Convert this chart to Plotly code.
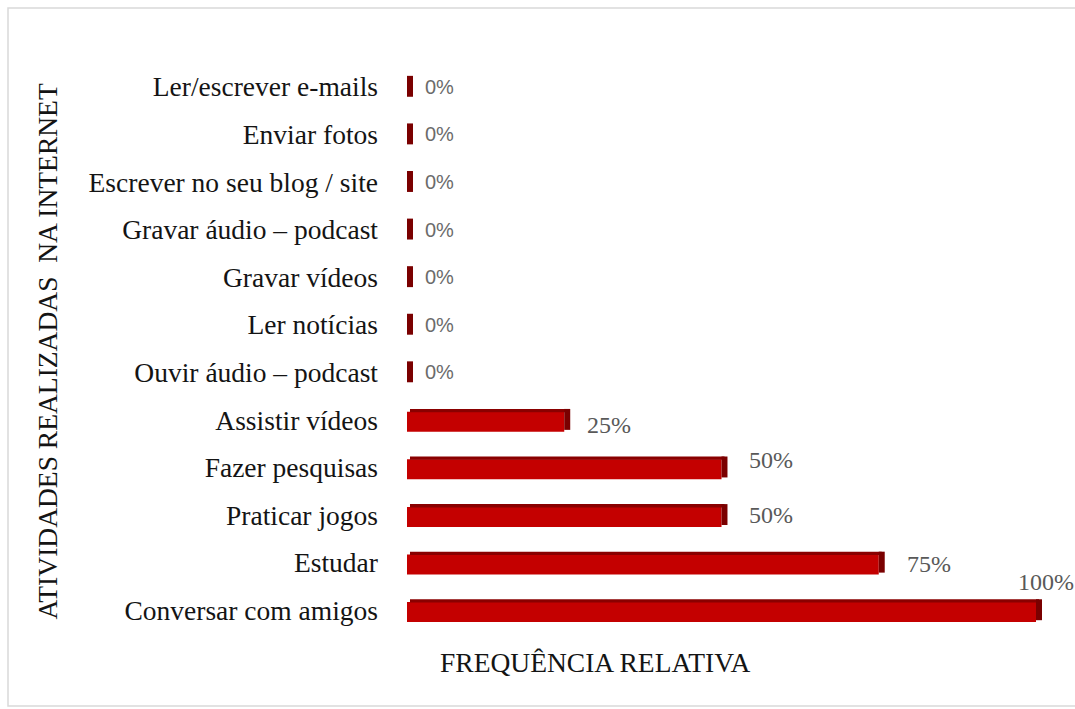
import plotly.graph_objects as go

# ---- data (bottom to top) ----
categories = [
    "Conversar com amigos", "Estudar", "Praticar jogos", "Fazer pesquisas",
    "Assistir vídeos", "Ouvir áudio – podcast", "Ler notícias", "Gravar vídeos",
    "Gravar áudio – podcast", "Escrever no seu blog / site", "Enviar fotos",
    "Ler/escrever e-mails",
]
values = [100, 75, 50, 50, 25, 0, 0, 0, 0, 0, 0, 0]
labels = ["100%", "75%", "50%", "50%", "25%", "0%", "0%", "0%", "0%", "0%", "0%", "0%"]

# ---- style ----
W, H = 1075, 709
ML, MR, MT, MB = 407, 0, 63, 75
XMAX = 106.2
DEPTH = 0.95          # 3D side depth in axis units (style)
SERIF = "Liberation Serif"
SANS = "Liberation Sans"
TXT = 27.5

fig = go.Figure()
# front face
fig.add_trace(go.Bar(
    y=categories, x=values, base=0, orientation="h",
    width=0.42, offset=-0.25,
    marker=dict(color="#C40000", line=dict(width=0)),
    hoverinfo="skip", showlegend=False,
))
# top face
fig.add_trace(go.Bar(
    y=categories, x=values, base=DEPTH * 0.5, orientation="h",
    width=0.07, offset=0.16,
    marker=dict(color="#8A0000", line=dict(width=0)),
    hoverinfo="skip", showlegend=False,
))
# side face
fig.add_trace(go.Bar(
    y=categories, x=[DEPTH] * len(values), base=values, orientation="h",
    width=0.44, offset=-0.21,
    marker=dict(color="#7A0000", line=dict(width=0)),
    hoverinfo="skip", showlegend=False,
))

# value labels
xshifts = [-26, 20, 20, 20, 15, 10, 10, 10, 10, 10, 10, 10]
yshifts = [28, -1, 0, 7, -5, 0, 0, 0, 0, 0, 0, 0]
for cat, v, lab, xs, ys in zip(categories, values, labels, xshifts, yshifts):
    is_zero = (v == 0)
    fig.add_annotation(
        x=v + DEPTH, y=cat, xref="x", yref="y", text=lab, showarrow=False,
        xanchor="left", yanchor="middle", xshift=xs, yshift=ys,
        font=dict(family=SANS if is_zero else SERIF,
                  size=20 if is_zero else 24,
                  color="#6b6b6b" if is_zero else "#595959"),
    )

# axis titles
pw = W - ML - MR
fig.add_annotation(
    text="ATIVIDADES REALIZADAS  NA INTERNET", textangle=-90,
    xref="paper", yref="paper", x=(47 - ML) / pw, y=0.5, yshift=-3,
    xanchor="center", yanchor="middle", showarrow=False,
    font=dict(family=SERIF, size=TXT, color="#141414"),
)
fig.add_annotation(
    text="FREQUÊNCIA RELATIVA",
    xref="paper", yref="paper", x=(595 - ML) / pw, y=0, yshift=-28,
    xanchor="center", yanchor="middle", showarrow=False,
    font=dict(family=SERIF, size=TXT, color="#141414"),
)

# chart border
ph = H - MT - MB
fig.add_shape(
    type="rect", xref="paper", yref="paper",
    x0=(8 - ML) / pw, x1=(1080 - ML) / pw,
    y0=-(706 - (H - MB)) / ph, y1=1 + (MT - 8) / ph,
    line=dict(color="#d9d9d9", width=1.5), fillcolor="rgba(0,0,0,0)", layer="below",
)

fig.update_layout(
    width=W, height=H,
    margin=dict(l=ML, r=MR, t=MT, b=MB),
    paper_bgcolor="white", plot_bgcolor="white",
    barmode="overlay",
    xaxis=dict(range=[0, XMAX], visible=False, fixedrange=True),
    yaxis=dict(
        type="category", categoryorder="array", categoryarray=categories,
        range=[-0.5, len(categories) - 0.5],
        showgrid=False, zeroline=False, showline=False, ticks="",
        ticklabelstandoff=28,
        tickfont=dict(family=SERIF, size=TXT, color="#141414"),
    ),
)

fig.write_html("out.html")
